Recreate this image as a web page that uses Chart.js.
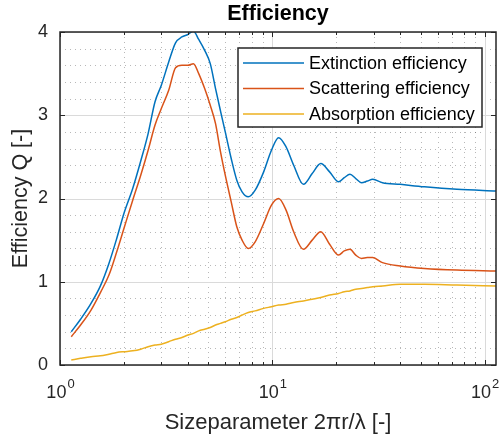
<!DOCTYPE html>
<html>
<head>
<meta charset="utf-8">
<script src="https://cdn.jsdelivr.net/npm/chart.js@4.4.1/dist/chart.umd.min.js"></script>
<style>
  html, body { margin: 0; background: #fff; }
  #wrap { width: 502px; height: 441px; }
</style>
</head>
<body>
<div id="wrap"><canvas id="myChart"></canvas></div>
<script>
// size parameter 2*pi*r/lambda
const sizeParam = [1.13, 1.25, 1.4, 1.55, 1.7, 1.85, 2.0, 2.2, 2.4, 2.6, 2.8, 3.0, 3.25, 3.5, 3.75, 4.0, 4.25, 4.5, 4.8, 5.1,
  5.4, 5.7, 6.0, 6.4, 6.8, 7.2, 7.7, 8.3, 9.1, 9.9, 10.7, 11.6, 12.6, 14.0, 15.4, 16.9, 18.6, 20.5, 21.8, 23.2,
  24.7, 26.3, 28.0, 29.7, 33.0, 40, 52, 74, 113];
const extinction = [0.40, 0.55, 0.74, 0.95, 1.22, 1.52, 1.82, 2.12, 2.45, 2.78, 3.16, 3.36, 3.64, 3.87, 3.94, 3.97, 4.01, 3.91, 3.78, 3.62,
  3.32, 3.05, 2.80, 2.48, 2.22, 2.08, 2.02, 2.10, 2.32, 2.58, 2.73, 2.62, 2.40, 2.17, 2.30, 2.42, 2.32, 2.20, 2.25, 2.29,
  2.24, 2.19, 2.21, 2.23, 2.19, 2.17, 2.14, 2.11, 2.09];
const scattering = [0.34, 0.48, 0.66, 0.87, 1.08, 1.36, 1.64, 1.98, 2.28, 2.58, 2.88, 3.08, 3.30, 3.57, 3.60, 3.60, 3.62, 3.50, 3.32, 3.12,
  2.90, 2.56, 2.28, 1.96, 1.66, 1.50, 1.40, 1.48, 1.70, 1.92, 2.00, 1.86, 1.60, 1.39, 1.50, 1.60, 1.45, 1.32, 1.37, 1.39,
  1.32, 1.28, 1.29, 1.29, 1.23, 1.19, 1.16, 1.14, 1.13];
const absorption = [0.06, 0.08, 0.10, 0.11, 0.13, 0.15, 0.16, 0.17, 0.19, 0.22, 0.24, 0.25, 0.28, 0.31, 0.33, 0.36, 0.38, 0.41, 0.43, 0.45,
  0.48, 0.50, 0.52, 0.55, 0.57, 0.60, 0.63, 0.65, 0.68, 0.70, 0.72, 0.73, 0.75, 0.77, 0.79, 0.81, 0.84, 0.86, 0.88, 0.89,
  0.91, 0.92, 0.93, 0.94, 0.95, 0.97, 0.97, 0.96, 0.95];

const seriesNames = ['Extinction efficiency', 'Scattering efficiency', 'Absorption efficiency'];
const seriesColors = ['#0072BD', '#D95319', '#EDB120'];

const chartTitle = 'Efficiency';
const xMin = 1, xMax = 113;
const xDecades = [1, 10, 100];
const xDecadeExp = ['0', '1', '2'];
const yTicks = [0, 1, 2, 3, 4];

const FONT = 'Liberation Sans, Arial, Helvetica, sans-serif';
const AXCOL = '#262626';

// minor grid positions
var xMinor = [];
xDecades.forEach(d => {
  for (var k = 2; k <= 9; k++) { if (k * d < xMax) xMinor.push(k * d); }
});
var yMinor = [];
for (var i = 1; i < 20; i++) { if (i % 5 != 0) yMinor.push(i * 0.2); }

function points(vals) {
  return sizeParam.map((x, i) => ({x: x, y: vals[i]}));
}

const matlabAxes = {
  id: 'matlabAxes',
  beforeDatasetsDraw(chart) {
    const {ctx, chartArea: a, scales: {x, y}} = chart;
    ctx.save();
    ctx.lineWidth = 1;
    // minor grid, dotted
    ctx.strokeStyle = 'rgba(38,38,38,0.33)';
    ctx.setLineDash([1, 4]);
    ctx.beginPath();
    xMinor.forEach(v => {
      const px = Math.round(x.getPixelForValue(v)) + 0.5;
      ctx.moveTo(px, a.top); ctx.lineTo(px, a.bottom);
    });
    yMinor.forEach(v => {
      const py = Math.round(y.getPixelForValue(v)) + 0.5;
      ctx.moveTo(a.left, py); ctx.lineTo(a.right, py);
    });
    ctx.stroke();
    // major grid, solid
    ctx.setLineDash([]);
    ctx.strokeStyle = '#dadada';
    ctx.beginPath();
    xDecades.forEach(v => {
      const px = Math.round(x.getPixelForValue(v)) + 0.5;
      ctx.moveTo(px, a.top); ctx.lineTo(px, a.bottom);
    });
    yTicks.forEach(v => {
      const py = Math.round(y.getPixelForValue(v)) + 0.5;
      ctx.moveTo(a.left, py); ctx.lineTo(a.right, py);
    });
    ctx.stroke();
    ctx.restore();
  },
  afterDatasetsDraw(chart) {
    const {ctx, chartArea: a, scales: {x, y}} = chart;
    ctx.save();
    // tick marks pointing inwards
    ctx.strokeStyle = AXCOL;
    ctx.lineWidth = 1;
    ctx.beginPath();
    xDecades.forEach(v => {
      const px = Math.round(x.getPixelForValue(v)) + 0.5;
      ctx.moveTo(px, a.bottom); ctx.lineTo(px, a.bottom - 5);
      ctx.moveTo(px, a.top); ctx.lineTo(px, a.top + 5);
    });
    xMinor.forEach(v => {
      const px = Math.round(x.getPixelForValue(v)) + 0.5;
      ctx.moveTo(px, a.bottom); ctx.lineTo(px, a.bottom - 3);
      ctx.moveTo(px, a.top); ctx.lineTo(px, a.top + 3);
    });
    yTicks.forEach(v => {
      const py = Math.round(y.getPixelForValue(v)) + 0.5;
      ctx.moveTo(a.left, py); ctx.lineTo(a.left + 5, py);
      ctx.moveTo(a.right, py); ctx.lineTo(a.right - 5, py);
    });
    ctx.stroke();
    // box
    ctx.lineWidth = 1.5;
    ctx.strokeRect(a.left, a.top, a.right - a.left, a.bottom - a.top);

    // title, centred over the axes like matlab does
    ctx.fillStyle = '#000';
    ctx.font = 'bold 21.5px ' + FONT;
    ctx.textAlign = 'center';
    ctx.textBaseline = 'middle';
    ctx.fillText(chartTitle, (a.left + a.right) / 2, 14);
    ctx.textAlign = 'left';

    // x tick labels 10^n
    ctx.fillStyle = AXCOL;
    ctx.textBaseline = 'alphabetic';
    xDecades.forEach((v, i) => {
      const px = x.getPixelForValue(v);
      ctx.font = '18px ' + FONT;
      const wBase = ctx.measureText('10').width;
      ctx.font = '13px ' + FONT;
      const wExp = ctx.measureText(xDecadeExp[i]).width;
      const left = px - (wBase + wExp) / 2;
      ctx.font = '18px ' + FONT;
      ctx.fillText('10', left, a.bottom + 33);
      ctx.font = '13px ' + FONT;
      ctx.fillText(xDecadeExp[i], left + wBase + 1, a.bottom + 23);
    });

    // legend inside the axes
    const lx = 238, ly = 48, lw = 244, lh = 79;
    ctx.fillStyle = '#fff';
    ctx.fillRect(lx, ly, lw, lh);
    ctx.strokeStyle = AXCOL;
    ctx.lineWidth = 1.5;
    ctx.strokeRect(lx, ly, lw, lh);
    ctx.font = '18px ' + FONT;
    ctx.textBaseline = 'middle';
    chart.data.datasets.forEach((ds, i) => {
      const yy = ly + 15 + i * 25.5;
      ctx.strokeStyle = ds.borderColor;
      ctx.lineWidth = 1.5;
      ctx.beginPath();
      ctx.moveTo(lx + 5, yy); ctx.lineTo(lx + 66, yy);
      ctx.stroke();
      ctx.fillStyle = '#000';
      ctx.fillText(ds.label, lx + 71, yy + 1);
    });
    ctx.restore();
  }
};

var myChart = new Chart(document.getElementById('myChart').getContext('2d'), {
  type: 'line',
  data: {
    datasets: seriesNames.map((name, i) => ({
      label: name,
      data: points([extinction, scattering, absorption][i]),
      borderColor: seriesColors[i],
      backgroundColor: seriesColors[i],
      borderWidth: 1.5,
      pointRadius: 0,
      cubicInterpolationMode: 'monotone',
      fill: false
    }))
  },
  options: {
    responsive: true,
    maintainAspectRatio: false,
    animation: false,
    devicePixelRatio: 1,
    layout: { padding: { left: 0, right: 6, top: 32, bottom: 0 } },
    plugins: {
      legend: { display: false },
      tooltip: { enabled: false },
      title: { display: false }
    },
    scales: {
      x: {
        type: 'logarithmic',
        min: xMin,
        max: xMax,
        grid: { display: false },
        border: { display: false },
        ticks: { display: false },
        title: {
          display: true,
          text: 'Sizeparameter 2\u03C0r/\u03BB [-]',
          color: AXCOL,
          font: { family: FONT, size: 22, lineHeight: 1.2 },
          padding: { top: 0, bottom: 5 }
        },
        afterFit: s => { s.height = 76; }
      },
      y: {
        min: 0,
        max: 4,
        grid: { display: false, drawTicks: false },
        border: { display: false },
        ticks: {
          stepSize: 1,
          padding: 12,
          color: AXCOL,
          font: { family: FONT, size: 18 }
        },
        title: {
          display: true,
          text: 'Efficiency Q [-]',
          color: AXCOL,
          font: { family: FONT, size: 21.5, lineHeight: 1.2 },
          padding: { top: 8, bottom: 0 }
        },
        afterFit: s => { s.width = 60; }
      }
    }
  },
  plugins: [matlabAxes]
});
</script>
</body>
</html>
